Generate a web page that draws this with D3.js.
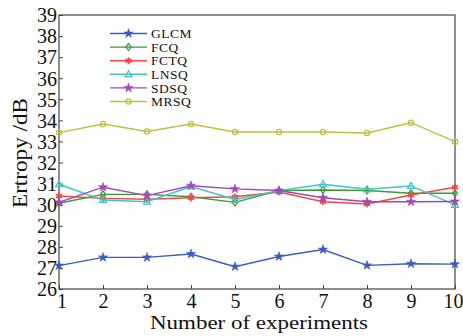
<!DOCTYPE html>
<html><head><meta charset="utf-8">
<script src="https://cdn.jsdelivr.net/npm/d3@7"></script>
<style>body{margin:0;background:#fff}svg{display:block}text{font-family:"Liberation Serif","DejaVu Serif",serif}</style>
</head><body><svg id="c" width="463" height="336"></svg>
<script>
const experiments = [1,2,3,4,5,6,7,8,9,10];
const yTicks = [26,27,28,29,30,31,32,33,34,35,36,37,38,39];
const seriesNames = ["GLCM","FCQ","FCTQ","LNSQ","SDSQ","MRSQ"];
const GLCM = [27.11,27.5,27.5,27.66,27.06,27.54,27.87,27.12,27.2,27.18];
const FCQ  = [30.07,30.49,30.49,30.38,30.11,30.67,30.7,30.67,30.54,30.54];
const FCTQ = [30.41,30.3,30.26,30.33,30.38,30.6,30.14,30.03,30.46,30.83];
const LNSQ = [30.97,30.22,30.14,30.86,30.25,30.67,30.97,30.73,30.89,29.99];
const SDSQ = [30.11,30.83,30.43,30.9,30.75,30.67,30.33,30.14,30.14,30.15];
const MRSQ = [33.42,33.83,33.47,33.83,33.45,33.45,33.45,33.4,33.89,32.99];
const values = [GLCM,FCQ,FCTQ,LNSQ,SDSQ,MRSQ];
const colors = ["#3c5cbc","#3a9a3a","#f04848","#40c4c4","#a048b8","#c0c040"];
const markers = ["star","diamond","asterisk","triangle","star","circle"];

const svg = d3.select("#c");
const m = {l:59, r:455, t:15, b:289};
const x = d3.scaleLinear().domain([1,10]).range([m.l,m.r]);
const y = d3.scaleLinear().domain([26,39]).range([m.b,m.t]);

const gx = svg.append("g").attr("transform",`translate(0,${m.b})`)
  .call(d3.axisBottom(x).tickValues(experiments).tickFormat(d3.format("d")).tickSizeInner(-4).tickSizeOuter(0).tickPadding(5));
const gy = svg.append("g").attr("transform",`translate(${m.l},0)`)
  .call(d3.axisLeft(y).tickValues(yTicks).tickFormat(d3.format("d")).tickSizeInner(-4).tickSizeOuter(0).tickPadding(2));
[gx,gy].forEach(g=>{
  g.select(".domain").remove();
  g.selectAll(".tick line").attr("stroke","#444");
  g.selectAll("text").attr("fill","#111").style("font-size","20px");
});
gy.selectAll("text").attr("dy","0.34em");
gx.selectAll("text").attr("dy","0.68em");
gx.selectAll(".tick").filter(d=>d===1).select("text").attr("dx","2.5");
gx.selectAll(".tick").filter(d=>d===10).select("text").attr("text-anchor","end").attr("dx","8");
svg.append("rect").attr("x",m.l).attr("y",m.t).attr("width",m.r-m.l).attr("height",m.b-m.t)
  .attr("fill","none").attr("stroke","#444").attr("stroke-width",1.2);

function drawMarker(g, type, cx, cy, col){
  if(type==="circle") g.append("circle").attr("cx",cx).attr("cy",cy).attr("r",2.6).attr("fill","none").attr("stroke",col).attr("stroke-width",1.2);
  else if(type==="diamond") g.append("path").attr("d",`M${cx},${cy-3.5}L${cx+2.6},${cy}L${cx},${cy+3.5}L${cx-2.6},${cy}Z`).attr("fill","none").attr("stroke",col).attr("stroke-width",1.2);
  else if(type==="triangle") g.append("path").attr("d",`M${cx},${cy-3.6}L${cx+3.4},${cy+2.4}L${cx-3.4},${cy+2.4}Z`).attr("fill","none").attr("stroke",col).attr("stroke-width",1.2);
  else if(type==="star") g.append("path").attr("d",d3.symbol().type(d3.symbolStar).size(26)()).attr("transform",`translate(${cx},${cy})`).attr("fill",col).attr("stroke",col).attr("stroke-width",0.6);
  else if(type==="asterisk") g.append("path").attr("d",d3.symbol().type(d3.symbolAsterisk).size(34)()).attr("transform",`translate(${cx},${cy})`).attr("fill","none").attr("stroke",col).attr("stroke-width",1.6);
}

const line = d3.line().x((d,i)=>x(experiments[i])).y(d=>y(d));
values.forEach((vals,k)=>{
  const g = svg.append("g");
  g.append("path").datum(vals).attr("d",line).attr("fill","none").attr("stroke",colors[k]).attr("stroke-width",1.4);
  vals.forEach((v,i)=>drawMarker(g,markers[k],x(experiments[i]),y(v),colors[k]));
});

const lg = svg.append("g");
seriesNames.forEach((n,k)=>{
  const ly = 33.5 + k*13.6;
  lg.append("line").attr("x1",110).attr("x2",147).attr("y1",ly).attr("y2",ly).attr("stroke",colors[k]).attr("stroke-width",1.4);
  drawMarker(lg,markers[k],128.5,ly,colors[k]);
  lg.append("text").attr("x",151).attr("y",ly).attr("dy","0.35em").style("font-size","13.5px").style("letter-spacing","0.5px").attr("fill","#111").text(n);
});

svg.append("text").attr("x",259).attr("y",329).attr("text-anchor","middle").style("font-size","19px")
  .attr("textLength",218).attr("lengthAdjust","spacingAndGlyphs").attr("fill","#111").text("Number of experiments");
svg.append("text").attr("transform",`translate(27,153) rotate(-90)`).attr("text-anchor","middle").style("font-size","21px")
  .attr("textLength",110).attr("lengthAdjust","spacingAndGlyphs").attr("fill","#111").text("Ertropy /dB");
</script></body></html>
